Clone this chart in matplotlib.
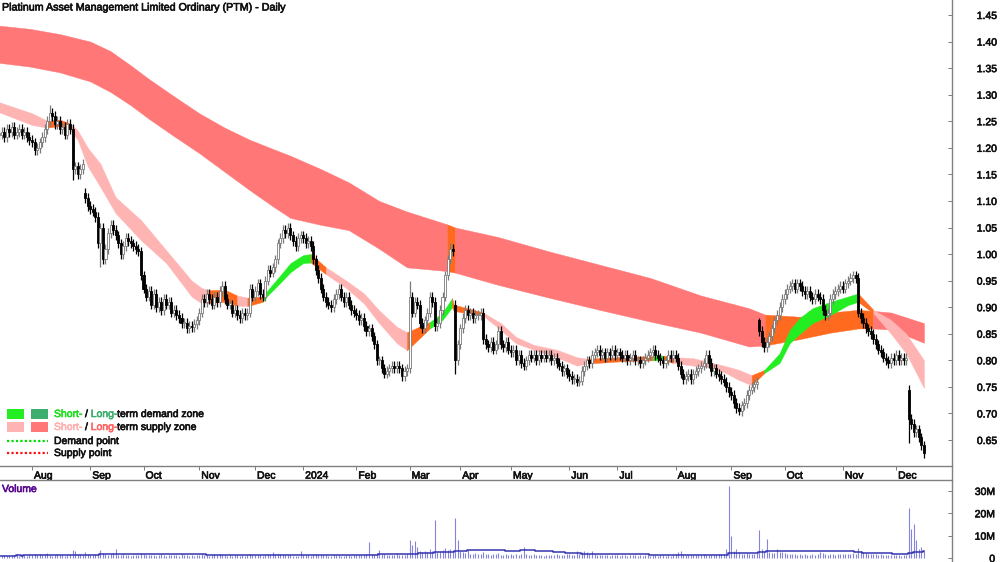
import numpy as np
import pandas as pd
import matplotlib
matplotlib.use('Agg')
import matplotlib.pyplot as plt
import matplotlib.patheffects as pe
from matplotlib.text import Text
from matplotlib.ticker import FormatStrFormatter
from matplotlib.transforms import ScaledTranslation
from matplotlib.patches import Rectangle
from matplotlib.lines import Line2D

FONT = ['Liberation Sans', 'DejaVu Sans']
plt.rcParams['font.family'] = FONT

title = "Platinum Asset Management Limited Ordinary (PTM) - Daily"
month_labels = ['Aug', 'Sep', 'Oct', 'Nov', 'Dec', '2024', 'Feb', 'Mar', 'Apr',
                'May', 'Jun', 'Jul', 'Aug', 'Sep', 'Oct', 'Nov', 'Dec']

# ---- daily closes, one list per month (Jul 2023 .. Dec 2024) ----
c_2023_07 = [1.225, 1.23, 1.22, 1.235, 1.23, 1.24, 1.225, 1.23, 1.235, 1.225, 1.23, 1.22, 1.215]
c_2023_08 = [1.21, 1.195, 1.20, 1.21, 1.22, 1.235, 1.25, 1.265, 1.26, 1.245, 1.25, 1.235, 1.24,
             1.225, 1.245, 1.235, 1.16, 1.165, 1.15, 1.16, 1.17, 1.105, 1.09]
c_2023_09 = [1.085, 1.08, 1.07, 1.02, 1.05, 0.99, 1.01, 1.04, 1.055, 1.045, 1.035, 1.02, 1.00,
             1.015, 1.03, 1.025, 1.02, 1.015, 1.01, 1.005, 0.96]
c_2023_10 = [0.935, 0.92, 0.93, 0.905, 0.925, 0.90, 0.91, 0.895, 0.915, 0.905, 0.91, 0.89, 0.895,
             0.885, 0.88, 0.87, 0.87, 0.86, 0.865, 0.862, 0.868, 0.875]
c_2023_11 = [0.89, 0.915, 0.91, 0.925, 0.915, 0.905, 0.92, 0.91, 0.93, 0.94, 0.915, 0.905, 0.905,
             0.89, 0.895, 0.885, 0.88, 0.89, 0.885, 0.89, 0.935, 0.92]
c_2023_12 = [0.93, 0.945, 0.925, 0.92, 0.95, 0.97, 0.965, 0.975, 0.99, 1.02, 1.03, 1.045, 1.04,
             1.05, 1.035, 1.025, 1.015, 1.03, 1.035]
c_2024_01 = [1.03, 1.02, 1.025, 1.015, 0.99, 0.97, 0.955, 0.935, 0.92, 0.91, 0.905, 0.90, 0.915,
             0.925, 0.935, 0.92, 0.91, 0.92, 0.905, 0.895, 0.89]
c_2024_02 = [0.885, 0.875, 0.88, 0.865, 0.855, 0.86, 0.845, 0.83, 0.80, 0.80, 0.785, 0.775, 0.78,
             0.785, 0.79, 0.785, 0.79, 0.785, 0.77, 0.78, 0.785]
c_2024_03 = [0.92, 0.89, 0.91, 0.905, 0.87, 0.86, 0.875, 0.89, 0.92, 0.91, 0.865, 0.87, 0.895,
             0.92, 0.96, 0.99, 1.01, 1.005, 0.80, 0.83]
c_2024_04 = [0.86, 0.88, 0.895, 0.885, 0.89, 0.88, 0.885, 0.885, 0.89, 0.84, 0.83, 0.825, 0.835,
             0.82, 0.83, 0.855, 0.83, 0.825, 0.835, 0.82]
c_2024_05 = [0.815, 0.82, 0.80, 0.81, 0.795, 0.79, 0.80, 0.81, 0.805, 0.81, 0.80, 0.81, 0.805,
             0.81, 0.805, 0.81, 0.80, 0.805, 0.795, 0.79, 0.78, 0.785, 0.775]
c_2024_06 = [0.77, 0.765, 0.765, 0.76, 0.762, 0.78, 0.79, 0.80, 0.795, 0.81, 0.815, 0.82, 0.81,
             0.815, 0.805, 0.815, 0.81, 0.82, 0.81]
c_2024_07 = [0.815, 0.81, 0.805, 0.81, 0.80, 0.805, 0.81, 0.80, 0.80, 0.795, 0.80, 0.805, 0.81,
             0.815, 0.82, 0.81, 0.805, 0.80, 0.795, 0.80, 0.81, 0.805, 0.81]
c_2024_08 = [0.805, 0.79, 0.775, 0.765, 0.77, 0.775, 0.765, 0.775, 0.78, 0.785, 0.79, 0.795, 0.81,
             0.795, 0.78, 0.785, 0.775, 0.77, 0.765, 0.76, 0.75, 0.74]
c_2024_09 = [0.735, 0.72, 0.71, 0.705, 0.715, 0.72, 0.735, 0.745, 0.75, 0.755, 0.76, 0.855, 0.835,
             0.825, 0.835, 0.845, 0.86, 0.875, 0.885, 0.90, 0.915]
c_2024_10 = [0.925, 0.935, 0.94, 0.945, 0.935, 0.945, 0.94, 0.93, 0.925, 0.93, 0.92, 0.915, 0.925,
             0.92, 0.915, 0.895, 0.885, 0.89, 0.915, 0.925, 0.93, 0.935, 0.94]
c_2024_11 = [0.935, 0.945, 0.95, 0.955, 0.96, 0.955, 0.89, 0.88, 0.87, 0.86, 0.855, 0.85, 0.84,
             0.83, 0.82, 0.815, 0.805, 0.80, 0.795, 0.805, 0.80]
c_2024_12 = [0.81, 0.80, 0.805, 0.80, 0.805, 0.69, 0.68, 0.665, 0.67, 0.655, 0.64, 0.625]

# opens that gap away from the previous close; notable highs / lows
gap_open = {34: 1.115, 180: 0.905, 300: 0.875, 359: 0.745}
high_at = {20: 1.28, 29: 1.245, 162: 0.95, 178: 1.02, 300: 0.88, 337: 0.968}
low_at = {29: 1.14, 40: 0.975, 180: 0.775, 292: 0.698, 359: 0.645}

# ---- daily volume (millions), one list per month ----
v_2023_07 = [1.1, 0.8, 1.4, 1.0, 0.9, 1.3, 1.2, 1.6, 1.0, 0.8, 1.5, 1.1, 1.9]
v_2023_08 = [1.4, 2.0, 1.2, 1.6, 1.3, 1.8, 2.2, 1.5, 1.1, 1.3, 1.7, 1.2, 1.5, 1.0, 1.4, 1.9, 3.5,
             3.0, 2.0, 1.6, 1.4, 2.8, 1.8]
v_2023_09 = [1.5, 1.2, 1.6, 2.0, 3.5, 2.2, 1.8, 1.4, 1.6, 2.1, 4.0, 1.5, 1.3, 1.6, 1.2, 1.4, 1.1,
             1.3, 1.5, 1.2, 2.4]
v_2023_10 = [1.8, 1.4, 1.2, 1.5, 1.3, 1.1, 1.4, 1.6, 1.2, 1.0, 1.3, 1.5, 1.2, 1.4, 1.1, 1.6, 1.3,
             1.2, 1.0, 1.4, 1.1, 1.3]
v_2023_11 = [1.5, 1.8, 1.2, 1.4, 1.1, 1.3, 1.6, 1.2, 1.9, 1.5, 1.2, 1.0, 1.3, 1.1, 1.4, 1.2, 1.0,
             1.3, 1.1, 1.2, 1.8, 1.4]
v_2023_12 = [1.3, 1.5, 1.2, 1.1, 1.4, 1.6, 1.3, 2.5, 1.8, 2.0, 1.6, 1.5, 1.3, 1.2, 1.4, 1.0, 0.9,
             1.1, 3.0]
v_2024_01 = [1.4, 1.2, 1.3, 1.1, 1.6, 1.8, 1.5, 1.3, 1.2, 1.4, 1.1, 1.0, 1.3, 1.2, 1.5, 1.1, 1.0,
             1.2, 1.3, 1.1, 1.4]
v_2024_02 = [1.3, 1.5, 1.2, 1.4, 1.6, 7.0, 1.8, 2.0, 2.4, 3.5, 1.8, 1.6, 1.4, 1.5, 1.3, 1.2, 1.6,
             1.4, 1.3, 1.5, 1.7]
v_2024_03 = [8.0, 6.0, 7.5, 5.0, 3.0, 2.5, 3.2, 2.8, 4.0, 3.0, 17.0, 2.5, 3.0, 3.5, 4.5, 3.8, 4.2,
             3.0, 18.0, 8.0]
v_2024_04 = [3.0, 2.5, 2.2, 3.5, 2.0, 1.8, 2.2, 1.6, 1.9, 2.6, 2.0, 1.7, 1.5, 1.8, 1.6, 2.4, 1.5,
             1.4, 1.7, 1.3]
v_2024_05 = [1.6, 1.4, 1.8, 1.5, 2.0, 5.0, 1.7, 1.4, 1.3, 1.6, 1.2, 1.5, 1.4, 1.1, 1.3, 1.5, 1.2,
             1.4, 1.6, 1.3, 1.5, 1.2, 1.8]
v_2024_06 = [1.6, 1.4, 1.5, 3.0, 2.0, 2.8, 3.2, 2.5, 1.8, 3.0, 1.6, 1.4, 1.5, 1.3, 1.2, 1.4, 1.1,
             1.3, 1.2]
v_2024_07 = [1.3, 1.1, 1.4, 1.2, 1.0, 1.3, 1.5, 1.2, 1.1, 1.4, 1.0, 1.2, 1.3, 1.1, 1.5, 1.2, 1.0,
             1.3, 1.4, 1.1, 1.2, 1.0, 1.3]
v_2024_08 = [1.8, 2.5, 3.0, 1.6, 1.4, 1.5, 1.3, 1.2, 1.4, 1.3, 1.5, 1.8, 1.4, 1.3, 1.2, 1.5, 1.4,
             1.6, 2.0, 1.8, 4.0, 32.0]
v_2024_09 = [10.0, 3.0, 4.0, 2.5, 2.0, 1.8, 2.2, 1.6, 1.9, 2.0, 2.4, 12.5, 4.0, 3.0, 8.5, 2.6, 2.4,
             2.2, 4.0, 2.8, 2.5]
v_2024_10 = [2.2, 2.0, 1.8, 1.6, 2.0, 1.5, 1.7, 1.4, 1.6, 1.3, 1.5, 1.8, 1.4, 1.6, 2.5, 2.2, 1.8,
             1.5, 1.7, 1.6, 1.4, 1.8, 2.0]
v_2024_11 = [1.8, 2.0, 1.6, 1.7, 2.2, 1.9, 4.5, 3.0, 2.5, 2.2, 2.0, 1.8, 1.6, 1.7, 1.5, 1.6, 1.4,
             1.3, 1.2, 1.4, 1.3]
v_2024_12 = [1.2, 1.4, 1.1, 1.3, 1.5, 22.5, 13.0, 15.0, 8.0, 4.0, 5.0, 3.0]

# ---- zones: (session, upper, lower, zone of following segment) ----
short_sess = [0, 13, 19, 24, 28, 31, 35, 40, 46, 56, 66, 76, 80, 83, 89, 94, 98, 104, 106, 111,
              115, 120, 123, 129, 137, 144, 150, 157, 161, 170, 175, 178.8, 179.4, 191, 198, 204,
              211, 220, 228, 232, 245, 258, 262, 266, 274, 280, 286, 292, 297, 302, 308, 312, 316,
              321, 328, 335, 339, 345, 352, 358, 365]
short_up = [1.286, 1.265, 1.251, 1.253, 1.246, 1.233, 1.200, 1.170, 1.107, 1.064, 1.007, 0.950,
            0.936, 0.932, 0.933, 0.922, 0.918, 0.920, 0.932, 0.960, 0.983, 0.998, 1.000, 0.975,
            0.950, 0.926, 0.894, 0.863, 0.853, 0.872, 0.890, 0.917, 0.905, 0.890, 0.870, 0.844,
            0.829, 0.820, 0.806, 0.803, 0.806, 0.808, 0.809, 0.806, 0.804, 0.797, 0.790, 0.782,
            0.772, 0.782, 0.813, 0.857, 0.880, 0.898, 0.910, 0.920, 0.926, 0.895, 0.876, 0.850,
            0.800]
short_lo = [1.267, 1.243, 1.238, 1.241, 1.234, 1.215, 1.165, 1.126, 1.077, 1.026, 0.983, 0.920,
            0.907, 0.908, 0.910, 0.903, 0.902, 0.910, 0.922, 0.946, 0.966, 0.983, 0.984, 0.962,
            0.936, 0.907, 0.870, 0.832, 0.819, 0.860, 0.876, 0.900, 0.893, 0.884, 0.857, 0.832,
            0.820, 0.806, 0.790, 0.794, 0.798, 0.800, 0.801, 0.795, 0.790, 0.787, 0.778, 0.763,
            0.753, 0.776, 0.795, 0.832, 0.850, 0.870, 0.885, 0.904, 0.910, 0.889, 0.850, 0.813,
            0.748]
short_zone = ['S', 'S', 'O', 'O', 'S', 'S', 'S', 'S', 'S', 'S', 'S', 'S', 'S', 'O', 'O', 'S',
              'O', 'G', 'G', 'G', 'G', 'G', 'O', 'S', 'S', 'S', 'S', 'S', 'O', 'G', 'G', 'O',
              'O', 'S', 'S', 'S', 'S', 'S', 'S', 'O', 'O', 'G', 'O', 'S', 'S', 'S', 'S', 'S',
              'O', 'G', 'G', 'G', 'G', 'G', 'G', 'G', 'O', 'S', 'S', 'S', 'S']

long_sess = [0, 12, 24, 36, 44, 52, 59, 69, 79, 89, 99, 108, 115, 127, 138, 150, 161, 176.8, 180,
             197, 217, 237, 257, 277, 296, 302.3, 316, 328, 339, 344.9, 352, 365]
long_up = [1.430, 1.424, 1.414, 1.400, 1.382, 1.355, 1.330, 1.297, 1.265, 1.238, 1.215, 1.198,
           1.185, 1.160, 1.135, 1.100, 1.080, 1.056, 1.050, 1.032, 1.005, 0.980, 0.955, 0.922,
           0.898, 0.886, 0.882, 0.890, 0.895, 0.893, 0.890, 0.870]
long_lo = [1.360, 1.353, 1.342, 1.325, 1.305, 1.280, 1.255, 1.222, 1.190, 1.155, 1.120, 1.090,
           1.068, 1.055, 1.045, 1.010, 0.975, 0.968, 0.965, 0.942, 0.918, 0.895, 0.873, 0.852,
           0.826, 0.828, 0.840, 0.852, 0.860, 0.860, 0.858, 0.833]
long_zone = ['L'] * 17 + ['O', 'L', 'L', 'L', 'L', 'L', 'L', 'L', 'O', 'O', 'O', 'O', 'L', 'L', 'L']

ZCOL = {'S': '#FFB4B4', 'L': '#FF7777', 'G': '#22EE22', 'D': '#3DAE6E', 'O': '#FF6A1F'}

# ---------------- build arrays ----------------
months_close = [c_2023_07, c_2023_08, c_2023_09, c_2023_10, c_2023_11, c_2023_12, c_2024_01,
                c_2024_02, c_2024_03, c_2024_04, c_2024_05, c_2024_06, c_2024_07, c_2024_08,
                c_2024_09, c_2024_10, c_2024_11, c_2024_12]
months_vol = [v_2023_07, v_2023_08, v_2023_09, v_2023_10, v_2023_11, v_2023_12, v_2024_01,
              v_2024_02, v_2024_03, v_2024_04, v_2024_05, v_2024_06, v_2024_07, v_2024_08,
              v_2024_09, v_2024_10, v_2024_11, v_2024_12]
close = np.concatenate([np.array(m, float) for m in months_close])
vol = np.concatenate([np.array(m, float) for m in months_vol]) * 1e6
month_starts = np.cumsum([len(m) for m in months_close])[:-1]
n = len(close)
x = np.arange(n)
opn = np.r_[close[0], close[:-1]]
for k, v in gap_open.items():
    opn[k] = v
WICK = 0.009
high = np.maximum(opn, close) + WICK
low = np.minimum(opn, close) - WICK
for k, v in high_at.items():
    high[k] = v
for k, v in low_at.items():
    low[k] = v

W, H = 1000, 562
fig = plt.figure(figsize=(W / 100, H / 100), dpi=100)
ax = fig.add_axes([0, 96 / H, 952 / W, 466 / H])
axv = fig.add_axes([0, 0, 952 / W, 82 / H])

XL = (0.37, 376.06)
ax.set_xlim(*XL)
ax.set_ylim(0.6011, 1.4782)


def draw_band(sess, up, lo, zone, z):
    sess = np.asarray(sess, float); up = np.asarray(up); lo = np.asarray(lo)
    k = 0
    m = len(sess)
    while k < m - 1:
        zz = zone[k]
        j = k
        while j < m - 1 and zone[j] == zz:
            j += 1
        ax.fill_between(sess[k:j + 1], lo[k:j + 1], up[k:j + 1], color=ZCOL[zz],
                        lw=0.3, edgecolor=ZCOL[zz], zorder=z)
        k = j


draw_band(long_sess, long_up, long_lo, long_zone, 1)
draw_band(short_sess, short_up, short_lo, short_zone, 2)

# candles
isup = close >= opn
wick_col = np.where(isup, '#7a7a7a', '#000000')
ax.vlines(x, low, high, colors=wick_col, lw=0.9, zorder=3)
body_bot = np.minimum(opn, close)
body_h = np.maximum(np.abs(close - opn), 0.002)
ax.bar(x, body_h, bottom=body_bot, width=0.8,
       color=np.where(isup, '#ffffff', '#000000'),
       edgecolor=np.where(isup, '#7a7a7a', '#000000'), lw=0.6, zorder=4)

# price axis
ax.yaxis.tick_right()
ax.set_yticks(np.round(np.arange(0.65, 1.4501, 0.05), 2))
ax.yaxis.set_major_formatter(FormatStrFormatter('%.2f'))
ax.tick_params(axis='y', direction='in', length=3, width=0.6, color='#666666', pad=32.4,
               labelsize=7.5, labelcolor='#111111')
for lab in ax.get_yticklabels():
    lab.set_horizontalalignment('right')

ax.set_xticks(month_starts)
ax.set_xticklabels(month_labels)
ax.tick_params(axis='x', direction='out', length=3, width=0.6, color='#666666', pad=0.3,
               labelsize=7.5, labelcolor='#111111')
off = ScaledTranslation(2 / 100, 0, fig.dpi_scale_trans)
for lab in ax.get_xticklabels():
    lab.set_horizontalalignment('left')
    lab.set_transform(lab.get_transform() + off)
for s in ax.spines.values():
    s.set_visible(False)

# volume
axv.set_xlim(*XL)
axv.set_ylim(-1.79e6, 34.9e6)
xv = np.arange(len(vol))
axv.vlines(xv, 0, vol, colors='#8484DC', lw=0.8, zorder=2)
vol_avg = pd.Series(vol).rolling(50, min_periods=1).mean().values
axv.plot(xv, vol_avg, color='#3434B0', lw=1.1, drawstyle='steps-mid', zorder=3)
axv.set_xticks([])
axv.yaxis.tick_right()
axv.set_yticks([0, 10e6, 20e6, 30e6])
axv.set_yticklabels(['0', '10M', '20M', '30M'])
axv.tick_params(axis='y', direction='in', length=3, width=0.6, color='#666666', pad=31,
                labelsize=7.5, labelcolor='#111111')
for lab in axv.get_yticklabels():
    lab.set_horizontalalignment('right')
for s in axv.spines.values():
    s.set_visible(False)

# frame lines
LC = '#808080'
fig.add_artist(Line2D([952 / W, 952 / W], [0, 1], color=LC, lw=1.0, transform=fig.transFigure))
for yy in (466, 480):
    fig.add_artist(Line2D([0, 952 / W], [1 - yy / H, 1 - yy / H], color=LC, lw=1.0,
                          transform=fig.transFigure))

# texts
fig.text(2 / W, 1 - 7.5 / H, title, fontsize=7.7, color='#111111', va='center', ha='left')
fig.text(2 / W, 1 - 489 / H, 'Volume', fontsize=7.5, color='#5B0A91', va='center', ha='left')

renderer = fig.canvas.get_renderer()


def rich(xp, yp, parts, size=7.5):
    for s, col in parts:
        t = fig.text(xp / W, 1 - yp / H, s, color=col, fontsize=size, va='center', ha='left')
        xp += t.get_window_extent(renderer).width


def sq(xp, yp, col):
    fig.add_artist(Rectangle((xp / W, 1 - (yp + 10) / H), 17 / W, 10 / H, color=col,
                             transform=fig.transFigure, lw=0))


sq(7, 409, ZCOL['G']); sq(31, 409, ZCOL['D'])
sq(7, 422, ZCOL['S']); sq(31, 422, ZCOL['L'])
rich(54, 414, [('Short-', '#22DD22'), (' /', '#111111'), (' Long-', '#3DAE6E'),
               ('term demand zone', '#111111')])
rich(54, 427, [('Short-', '#FFB0B0'), (' /', '#111111'), (' Long-', '#FF6464'),
               ('term supply zone', '#111111')])
fig.add_artist(Line2D([7 / W, 48 / W], [1 - 441 / H] * 2, color='#00DD00', lw=1.6, ls=(0, (1, 1)),
                      transform=fig.transFigure))
fig.add_artist(Line2D([7 / W, 48 / W], [1 - 453 / H] * 2, color='#FF1111', lw=1.6, ls=(0, (1, 1)),
                      transform=fig.transFigure))
fig.text(54 / W, 1 - 441 / H, 'Demand point', fontsize=7.5, color='#111111', va='center')
fig.text(54 / W, 1 - 453 / H, 'Supply point', fontsize=7.5, color='#111111', va='center')

# heavier text rendering, like the reference
for t in fig.findobj(Text):
    if t.get_text():
        t.set_path_effects([pe.withStroke(linewidth=0.45, foreground=t.get_color())])

fig.savefig('out.png', dpi=100)
